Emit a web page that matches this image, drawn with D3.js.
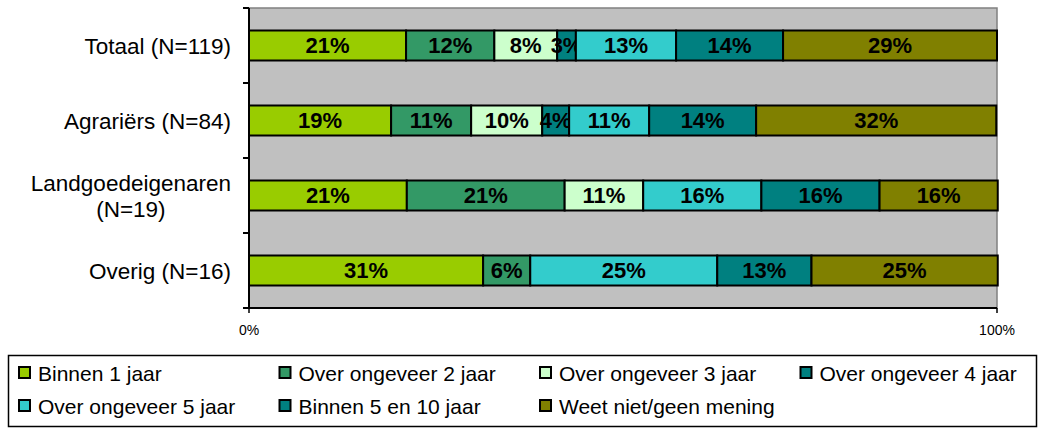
<!DOCTYPE html>
<html>
<head>
<meta charset="utf-8">
<script src="https://cdn.jsdelivr.net/npm/d3@7"></script>
<style>
  body { margin: 0; background: #fff; }
  svg { font-family: "Liberation Sans", Arial, sans-serif; }
</style>
</head>
<body>
<div id="chart"></div>
<script>
// groups (y axis), two-line label for the long one
var groups = ["Totaal (N=119)", "Agrariërs (N=84)", "Landgoedeigenaren\n(N=19)", "Overig (N=16)"];

// answer categories, in stacking order
var series = ["Binnen 1 jaar", "Over ongeveer 2 jaar", "Over ongeveer 3 jaar",
  "Over ongeveer 4 jaar", "Over ongeveer 5 jaar", "Binnen 5 en 10 jaar", "Weet niet/geen mening"];

var colors = ["#99cc00", "#339966", "#ccffcc", "#008080", "#33cccc", "#008080", "#808000"];

// percentage per group, one array per series (same order as groups)
var binnen1  = [21.0, 19.0, 21.1, 31.3];
var over2    = [11.8, 10.7, 21.1, 6.3];
var over3    = [8.4, 9.5, 10.5, 0];
var over4    = [2.5, 3.6, 0, 0];
var over5    = [13.4, 10.7, 15.8, 25.0];
var binnen510 = [14.3, 14.3, 15.8, 12.6];
var weetNiet = [28.6, 32.1, 15.8, 24.9];

var values = [binnen1, over2, over3, over4, over5, binnen510, weetNiet];

var xTicks = [0, 100];

var width = 1038;
var height = 428;
var plot = { left: 249, right: 997, top: 8, bottom: 308 };

var svg = d3.select("#chart")
  .append("svg")
  .attr("width", width)
  .attr("height", height);

// build rows for d3.stack
var rows = groups.map(function(g, i) {
  var row = { group: g };
  series.forEach(function(s, j) { row[s] = values[j][i]; });
  return row;
});

var stacked = d3.stack().keys(series)(rows);

var x = d3.scaleLinear()
  .domain([0, 100])
  .range([plot.left, plot.right]);

var y = d3.scaleBand()
  .domain(groups)
  .range([plot.top, plot.bottom])
  .paddingInner(0.6)
  .paddingOuter(0.3);

// gray plot area
svg.append("rect")
  .attr("x", plot.left)
  .attr("y", plot.top)
  .attr("width", plot.right - plot.left)
  .attr("height", plot.bottom - plot.top)
  .attr("fill", "#c0c0c0")
  .attr("stroke", "#808080")
  .attr("stroke-width", 1.5);

// segments with a value, keeping the series key on each
function segments(layerData) {
  return layerData
    .map(function(p) { p.key = layerData.key; return p; })
    .filter(function(p) { return p.data[layerData.key] > 0; });
}

// bars
var layer = svg.selectAll(".layer")
  .data(stacked)
  .enter()
  .append("g")
  .attr("class", "layer")
  .attr("fill", function(d, i) { return colors[i]; });

layer.selectAll("rect")
  .data(segments)
  .enter()
  .append("rect")
  .attr("x", function(d) { return x(d[0]); })
  .attr("y", function(d) { return y(d.data.group); })
  .attr("width", function(d) { return x(d[1]) - x(d[0]); })
  .attr("height", y.bandwidth())
  .attr("stroke", "#000")
  .attr("stroke-width", 2);

// value labels
layer.selectAll("text")
  .data(segments)
  .enter()
  .append("text")
  .attr("x", function(d) { return (x(d[0]) + x(d[1])) / 2; })
  .attr("y", function(d) { return y(d.data.group) + y.bandwidth() / 2; })
  .attr("dy", "0.36em")
  .attr("text-anchor", "middle")
  .attr("fill", "#000")
  .style("font-size", "22px")
  .style("font-weight", "bold")
  .text(function(d) { return Math.round(d.data[d.key]) + "%"; });

// left axis (ticks between groups)
var step = y.step();
var yAxis = svg.append("g");
yAxis.append("line")
  .attr("x1", plot.left).attr("x2", plot.left)
  .attr("y1", plot.top).attr("y2", plot.bottom)
  .attr("stroke", "#000").attr("stroke-width", 2);

yAxis.selectAll(".ytick")
  .data(d3.range(groups.length + 1))
  .enter()
  .append("line")
  .attr("x1", plot.left - 6).attr("x2", plot.left)
  .attr("y1", function(i) { return plot.top + i * step; })
  .attr("y2", function(i) { return plot.top + i * step; })
  .attr("stroke", "#000").attr("stroke-width", 2);

// group labels, centred lines, block right aligned at 231
var labels = yAxis.selectAll(".ylabel")
  .data(groups)
  .enter()
  .append("text")
  .attr("text-anchor", "middle")
  .style("font-size", "22.5px")
  .attr("fill", "#000");

labels.each(function(g) {
  var lines = g.split("\n");
  var t = d3.select(this);
  var cy = y(g) + y.bandwidth() / 2;
  var lineH = 26;
  var spans = t.selectAll("tspan")
    .data(lines)
    .enter()
    .append("tspan")
    .attr("x", 0)
    .attr("y", function(l, k) { return cy + (k - (lines.length - 1) / 2) * lineH; })
    .attr("dy", "0.36em")
    .text(function(l) { return l; });
  var w = d3.max(spans.nodes(), function(n) { return n.getComputedTextLength(); });
  spans.attr("x", 231 - w / 2);
});

// bottom axis
var xAxis = svg.append("g");
xAxis.append("line")
  .attr("x1", plot.left).attr("x2", plot.right)
  .attr("y1", plot.bottom).attr("y2", plot.bottom)
  .attr("stroke", "#000").attr("stroke-width", 2);

xAxis.selectAll(".xtick")
  .data(xTicks)
  .enter()
  .append("line")
  .attr("x1", function(d) { return x(d); })
  .attr("x2", function(d) { return x(d); })
  .attr("y1", plot.bottom).attr("y2", plot.bottom + 5)
  .attr("stroke", "#000").attr("stroke-width", 1.5);

xAxis.selectAll(".xlabel")
  .data(xTicks)
  .enter()
  .append("text")
  .attr("x", function(d) { return x(d); })
  .attr("y", 335)
  .attr("text-anchor", "middle")
  .style("font-size", "14px")
  .attr("fill", "#000")
  .text(function(d) { return d + "%"; });

// legend
var legend = svg.append("g");
legend.append("rect")
  .attr("x", 8.5).attr("y", 355.5)
  .attr("width", 1028).attr("height", 71)
  .attr("fill", "#fff")
  .attr("stroke", "#000")
  .attr("stroke-width", 1.5);

var item = legend.selectAll(".item")
  .data(series)
  .enter()
  .append("g")
  .attr("transform", function(d, i) {
    var col = i % 4, row = Math.floor(i / 4);
    return "translate(" + (19 + col * 260.5) + "," + (367 + row * 33) + ")";
  });

item.append("rect")
  .attr("width", 11).attr("height", 11)
  .attr("fill", function(d, i) { return colors[i]; })
  .attr("stroke", "#000")
  .attr("stroke-width", 2);

item.append("text")
  .attr("x", 19)
  .attr("y", 14)
  .style("font-size", "21px")
  .attr("fill", "#000")
  .text(function(d) { return d; });
</script>
</body>
</html>
